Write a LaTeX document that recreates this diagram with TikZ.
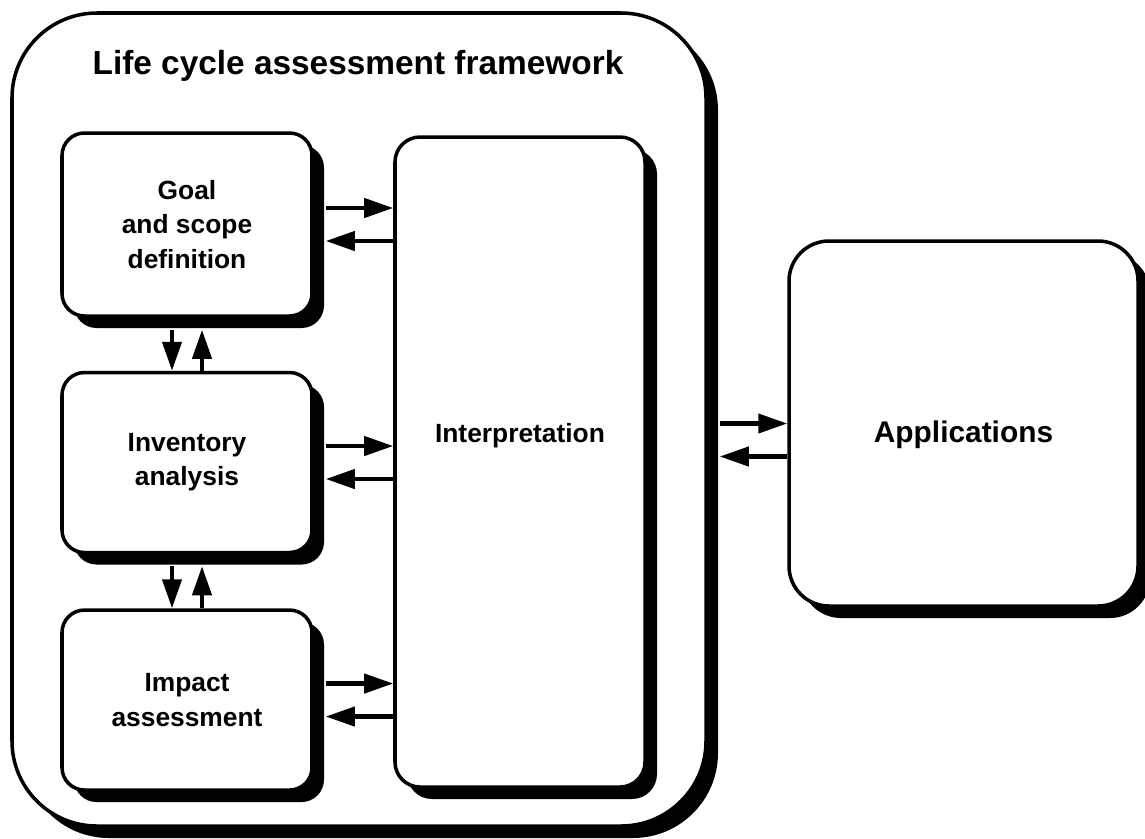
\documentclass[tikz,border=0pt]{standalone}
\usepackage{fontspec}
\setmainfont{Liberation Sans}
\usetikzlibrary{positioning,shadows,calc}
\usetikzlibrary{arrows.meta}

\begin{document}
\begin{tikzpicture}[
	  scale=1.0,
	  %style for arrows
	  arrw/.style={line width=2.4pt, -{Triangle[length=0.58cm, width=0.38cm]}},
      % style for the small boxes
      bx/.style={rectangle, rounded corners=0.45cm, fill=white, draw=black,
        line width=2pt, minimum width=5cm, align=center,
        font=\fontsize{15}{19.5}\selectfont\bfseries,
        drop shadow={shadow xshift=0.24cm, shadow yshift=-0.24cm, fill=black, opacity=1}},
      % style for the big boxes
      bigbx/.style={bx, rounded corners=1.7cm}]

      \useasboundingbox (0,0) rectangle (22.9,-16.76);

      \node[bigbx, minimum width=13.88cm, minimum height=16.26cm](lcafw) at (7.18,-8.39){};
      \node[font=\fontsize{19}{23}\selectfont\bfseries](title) at (7.16,-1.32){Life cycle assessment framework};

      \node[bx, minimum height=3.66cm](goaldef) at (3.74,-4.49){Goal\\and scope\\definition};
      \node[bx, minimum height=3.6cm, below=1.06cm of goaldef](invan){Inventory\\analysis};
      \node[bx, minimum height=3.6cm, below=1.08cm of invan](impass){Impact\\assessment};

      \node[bx, rounded corners=0.5cm, minimum height=13cm](interp) at (10.4,-9.24){};
      \node[font=\fontsize{15}{19.5}\selectfont\bfseries](interptxt) at (interp.center |- 0,-8.72){Interpretation};

      \node[bx, rounded corners=0.8cm, minimum width=6.98cm, minimum height=7.3cm](appl) at (19.27,-8.47){};
      \node[font=\fontsize{17}{21}\selectfont\bfseries](appltxt) at (appl.center |- 0,-8.7){Applications};

      % arrows to and from interpretation
      \foreach \b in {goaldef,invan,impass}{
        \draw[arrw] ($(\b.east)+(0.24,0.33)$) -- ($(\b.east -| interp.west)+(0,0.33)$);
        \draw[arrw] ($(\b.east -| interp.west)+(0,-0.33)$) -- ($(\b.east)+(0.24,-0.33)$);
      }

      % arrows between the phases
      \foreach \a/\b in {goaldef/invan, invan/impass}{
        \draw[arrw] ($(\a.south)+(-0.3,-0.24)$) -- ($(\b.north)+(-0.3,0)$);
        \draw[arrw] ($(\b.north)+(0.3,0)$) -- ($(\a.south)+(0.3,-0.24)$);
      }

      \draw[arrw] ($(lcafw.east |- appl.west)+(0.24,0)$) -- (appl.west);
      \draw[arrw] ($(appl.west)+(0,-0.66)$) -- ($(lcafw.east |- appl.west)+(0.24,-0.66)$);

\end{tikzpicture}
\end{document}
